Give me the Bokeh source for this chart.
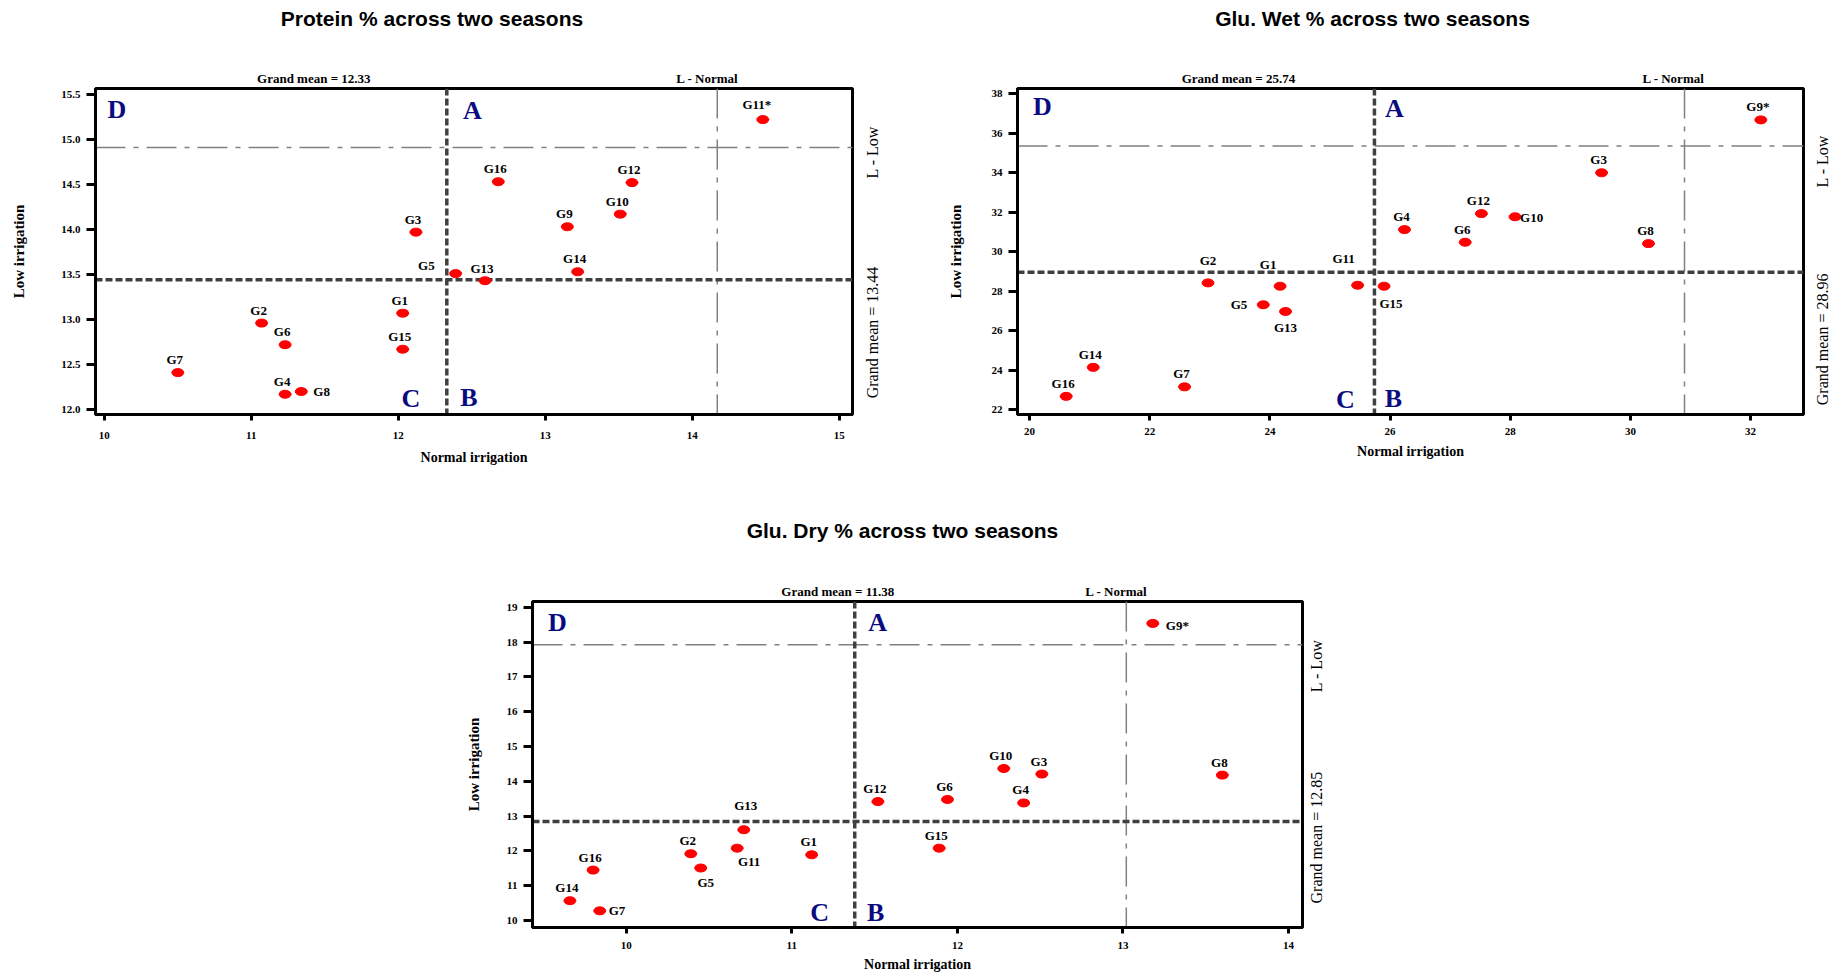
import math
from bokeh.plotting import figure
from bokeh.models import (Range1d, FixedTicker, PrintfTickFormatter, Span, Label, ColumnDataSource,
                          Spacer, LinearAxis)
from bokeh.layouts import row, column
from bokeh.core.properties import value
from bokeh.embed import file_html
from bokeh.resources import INLINE

# ---------------- data ----------------
genotypes = ["G1", "G2", "G3", "G4", "G5", "G6", "G7", "G8",
             "G9", "G10", "G11", "G12", "G13", "G14", "G15", "G16"]

# Protein %
protein_normal = [12.03, 11.07, 12.12, 11.23, 12.39, 11.23, 10.50, 11.34,
                  13.15, 13.51, 14.48, 13.59, 12.59, 13.22, 12.03, 12.68]
protein_low = [13.07, 12.96, 13.97, 12.17, 13.51, 12.72, 12.41, 12.20,
               14.03, 14.17, 15.22, 14.52, 13.43, 13.53, 12.67, 14.53]
protein_mean_normal = 12.33
protein_mean_low = 13.44
protein_l_normal = 14.17
protein_l_low = 14.91
protein_starred = "G11"
protein_x_ticks = [10, 11, 12, 13, 14, 15]
protein_y_ticks = [12.0, 12.5, 13.0, 13.5, 14.0, 14.5, 15.0, 15.5]

# Glu. Wet %
wet_normal = [24.17, 22.97, 29.52, 26.24, 23.89, 27.25, 22.58, 30.30,
              32.17, 28.08, 25.46, 27.52, 24.26, 21.06, 25.90, 20.61]
wet_low = [28.25, 28.42, 34.00, 31.12, 27.31, 30.48, 23.15, 30.41,
           36.68, 31.77, 28.30, 31.93, 26.97, 24.14, 28.25, 22.67]
wet_mean_normal = 25.74
wet_mean_low = 28.96
wet_l_normal = 30.90
wet_l_low = 35.36
wet_starred = "G9"
wet_x_ticks = [20, 22, 24, 26, 28, 30, 32]
wet_y_ticks = [22, 24, 26, 28, 30, 32, 34, 36, 38]

# Glu. Dry %
dry_normal = [11.12, 10.39, 12.51, 12.40, 10.45, 11.94, 9.84, 13.60,
              13.18, 12.28, 10.67, 11.52, 10.71, 9.66, 11.89, 9.80]
dry_low = [11.89, 11.92, 14.21, 13.38, 11.51, 13.48, 10.28, 14.18,
           18.54, 14.37, 12.08, 13.42, 12.61, 10.57, 12.08, 11.45]
dry_mean_normal = 11.38
dry_mean_low = 12.85
dry_l_normal = 13.02
dry_l_low = 17.93
dry_starred = "G9"
dry_x_ticks = [10, 11, 12, 13, 14]
dry_y_ticks = [10, 11, 12, 13, 14, 15, 16, 17, 18, 19]

titles = ["Protein % across two seasons", "Glu. Wet % across two seasons", "Glu. Dry % across two seasons"]
x_axis_title = "Normal irrigation"
y_axis_title = "Low irrigation"
l_normal_text = "L - Normal"
l_low_text = "L - Low"

# ---------------- styling / layout ----------------
SERIF = "Liberation Serif"
SANS = "Liberation Sans"
NAVY = "#0b0b80"

# label placement: name -> (align, dx, dy_down) in screen px
protein_label_pos = {"G5": ("right", -21, -8), "G8": ("left", 12, 0), "G11": ("center", -6, -15),
                     "G13": ("center", -3, -12)}
wet_label_pos = {"G2": ("center", 0, -22), "G1": ("center", -12, -22), "G11": ("center", -14, -27),
                 "G5": ("right", -16, 0), "G13": ("center", 0, 16), "G15": ("center", 7, 17),
                 "G10": ("left", 5, 1)}
dry_label_pos = {"G13": ("center", 2, -24), "G11": ("center", 12, 13), "G5": ("center", 5, 14),
                 "G7": ("left", 9, 0), "G9": ("left", 13, 2)}

# half lengths (px) of the rotated right-hand texts, used to centre them
HALF_LLOW = 26.5
HALF_GM = 63

layouts = [
    dict(w=902, h=476, left=95, right=50, top=88, bottom=56, xr=(9.94, 15.09), yr=(11.945, 15.565),
         yfmt="%.1f", ylab_standoff=31, xtick_standoff=11, xlab_standoff=8,
         title_dx=-42, title_standoff=38, gm_dx=-133, ln_dx=-10,
         right_standoff=20, llow_dy=5, gmr_up=79.5,
         D=(21.5, 20.5), A=(25.5, 22), C=(-36, 16.5), B=(22, 17)),
    dict(w=941, h=476, left=115, right=40, top=88, bottom=62, xr=(19.80, 32.88), yr=(21.75, 38.27),
         yfmt="%d", ylab_standoff=25, xtick_standoff=7, xlab_standoff=6,
         title_dx=-38, title_standoff=38, gm_dx=-136, ln_dx=-11,
         right_standoff=19, llow_dy=15, gmr_up=72.3,
         D=(25, 18), A=(20, 20), C=(-29, 15), B=(19, 16)),
    dict(w=884, h=499, left=80, right=34, top=125, bottom=48, xr=(9.434, 14.084), yr=(9.80, 19.17),
         yfmt="%d", ylab_standoff=22, xtick_standoff=8, xlab_standoff=5,
         title_dx=-15, title_standoff=39, gm_dx=-17, ln_dx=-10,
         right_standoff=14, llow_dy=21, gmr_up=87,
         D=(25, 21), A=(23, 21), C=(-35, 15), B=(21, 15)),
]
SPACER_W = 452


def add_label(p, x, y, text, dx=0, dy_up=0, size="13px", style="bold", font=SERIF,
              color="black", align="center", baseline="middle"):
    p.add_layout(Label(x=x, y=y, x_offset=dx, y_offset=dy_up, text=text, text_font=font,
                       text_font_size=size, text_font_style=style, text_color=color,
                       text_align=align, text_baseline=baseline))


def text_axis(location_ticks, texts, orientation, size, style, standoff, font=SERIF):
    ticks = [round(t, 4) for t in location_ticks]
    ax = LinearAxis(ticker=FixedTicker(ticks=ticks),
                    major_label_overrides={t: s for t, s in zip(ticks, texts)})
    ax.axis_line_color = None
    ax.major_tick_line_color = None
    ax.minor_tick_line_color = None
    ax.major_tick_out = 0
    ax.major_tick_in = 0
    ax.major_label_standoff = standoff
    ax.major_label_orientation = orientation
    ax.major_label_text_font = font
    ax.major_label_text_font_size = size
    ax.major_label_text_font_style = style
    ax.major_label_text_color = "black"
    return ax


def make_chart(title, xs, ys, mean_x, mean_y, l_x, l_y, starred, xticks, yticks, label_pos, lay):
    p = figure(width=lay["w"], height=lay["h"], title=None,
               x_range=Range1d(*lay["xr"]), y_range=Range1d(*lay["yr"]),
               output_backend="svg", toolbar_location=None,
               min_border_left=lay["left"], min_border_right=lay["right"],
               min_border_top=lay["top"], min_border_bottom=lay["bottom"])

    p.xgrid.visible = False
    p.ygrid.visible = False
    p.outline_line_color = "black"
    p.outline_line_width = 3
    p.outline_line_alpha = 1.0
    p.background_fill_color = "white"
    p.border_fill_color = "white"

    # axes
    p.xaxis.ticker = FixedTicker(ticks=xticks)
    p.yaxis.ticker = FixedTicker(ticks=yticks)
    p.yaxis.formatter = PrintfTickFormatter(format=lay["yfmt"])
    p.xaxis.formatter = PrintfTickFormatter(format="%d")
    for ax in (p.xaxis[0], p.yaxis[0]):
        ax.axis_line_color = "black"
        ax.axis_line_width = 3
        ax.major_tick_line_color = "black"
        ax.major_tick_line_width = 3
        ax.major_tick_in = 0
        ax.minor_tick_line_color = None
        ax.major_label_text_font = SERIF
        ax.major_label_text_font_style = "bold"
        ax.major_label_text_font_size = "11px"
        ax.major_label_text_color = "black"
        ax.axis_label_text_font = SERIF
        ax.axis_label_text_font_style = "bold"
        ax.axis_label_text_color = "black"
    p.xaxis.major_tick_out = 6
    p.xaxis.major_label_standoff = lay["xtick_standoff"]
    p.xaxis.axis_label = x_axis_title
    p.xaxis.axis_label_text_font_size = "14px"
    p.xaxis.axis_label_standoff = lay["xlab_standoff"]
    p.yaxis.major_tick_out = 9
    p.yaxis.major_label_standoff = 6
    p.yaxis.axis_label = y_axis_title
    p.yaxis.axis_label_text_font_size = "15px"
    p.yaxis.axis_label_standoff = lay["ylab_standoff"]

    x0, x1 = lay["xr"]
    y0, y1 = lay["yr"]
    fw = lay["w"] - lay["left"] - lay["right"]
    fh = lay["h"] - lay["top"] - lay["bottom"]
    px_x = fw / (x1 - x0)
    px_y = fh / (y1 - y0)

    # texts above the frame (grand mean of normal irrigation, L - Normal)
    top_ax = text_axis([mean_x + lay["gm_dx"] / px_x, l_x + lay["ln_dx"] / px_x],
                       ["Grand mean = %.2f" % mean_x, l_normal_text], "horizontal", "13px", "bold", 3)
    p.add_layout(top_ax, "above")
    # chart title, stacked above
    title_ax = text_axis([(x0 + x1) / 2 + lay["title_dx"] / px_x], [title], "horizontal", "21px",
                         "bold", lay["title_standoff"], font=SANS)
    p.add_layout(title_ax, "above")
    # texts right of the frame (L - Low, grand mean of low irrigation)
    right_ax = text_axis([l_y - (lay["llow_dy"] + HALF_LLOW) / px_y,
                          y0 + (lay["gmr_up"] - HALF_GM) / px_y],
                         [l_low_text, "Grand mean = %.2f" % mean_y], math.pi / 2, "16px", "normal",
                         lay["right_standoff"])
    p.add_layout(right_ax, "right")

    # reference lines
    p.add_layout(Span(location=l_x, dimension="height", line_color="#808080", line_width=1.5,
                      line_dash="30 8 5 8", level="underlay"))
    p.add_layout(Span(location=l_y, dimension="width", line_color="#808080", line_width=1.5,
                      line_dash="30 8 5 8", level="underlay"))
    p.add_layout(Span(location=mean_x, dimension="height", line_color="#404040", line_width=3.5,
                      line_dash="7 3", level="underlay"))
    p.add_layout(Span(location=mean_y, dimension="width", line_color="#404040", line_width=3.5,
                      line_dash="7 3", level="underlay"))

    # points
    labels, aligns, dxs, dys = [], [], [], []
    for g in genotypes:
        a, dx, dy = label_pos.get(g, ("center", -3, -13))
        labels.append(g + ("*" if g == starred else ""))
        aligns.append(a)
        dxs.append(dx)
        dys.append(dy)
    src = ColumnDataSource(dict(x=xs, y=ys, label=labels, align=aligns, dx=dxs, dy=dys))
    p.ellipse(x="x", y="y", width=12, height=8, width_units="screen", height_units="screen",
              fill_color="#ff0000", line_color="#ff0000", source=src)
    p.text(x="x", y="y", text="label", x_offset="dx", y_offset="dy", text_align="align",
           text_baseline="middle", text_font=value(SERIF), text_font_style="bold",
           text_font_size="13px", text_color="black", source=src)

    # quadrant letters
    qs = "26px"
    add_label(p, x0, y1, "D", dx=lay["D"][0], dy_up=-lay["D"][1], size=qs, color=NAVY)
    add_label(p, mean_x, y1, "A", dx=lay["A"][0], dy_up=-lay["A"][1], size=qs, color=NAVY)
    add_label(p, mean_x, y0, "C", dx=lay["C"][0], dy_up=lay["C"][1], size=qs, color=NAVY)
    add_label(p, mean_x, y0, "B", dx=lay["B"][0], dy_up=lay["B"][1], size=qs, color=NAVY)
    return p


p1 = make_chart(titles[0], protein_normal, protein_low, protein_mean_normal, protein_mean_low,
                protein_l_normal, protein_l_low, protein_starred, protein_x_ticks, protein_y_ticks,
                protein_label_pos, layouts[0])
p2 = make_chart(titles[1], wet_normal, wet_low, wet_mean_normal, wet_mean_low,
                wet_l_normal, wet_l_low, wet_starred, wet_x_ticks, wet_y_ticks,
                wet_label_pos, layouts[1])
p3 = make_chart(titles[2], dry_normal, dry_low, dry_mean_normal, dry_mean_low,
                dry_l_normal, dry_l_low, dry_starred, dry_x_ticks, dry_y_ticks,
                dry_label_pos, layouts[2])

layout = column(row(p1, p2, spacing=0),
                row(Spacer(width=SPACER_W, height=10), p3, spacing=0), spacing=0)

open("out.html", "w").write(file_html(layout, INLINE))
